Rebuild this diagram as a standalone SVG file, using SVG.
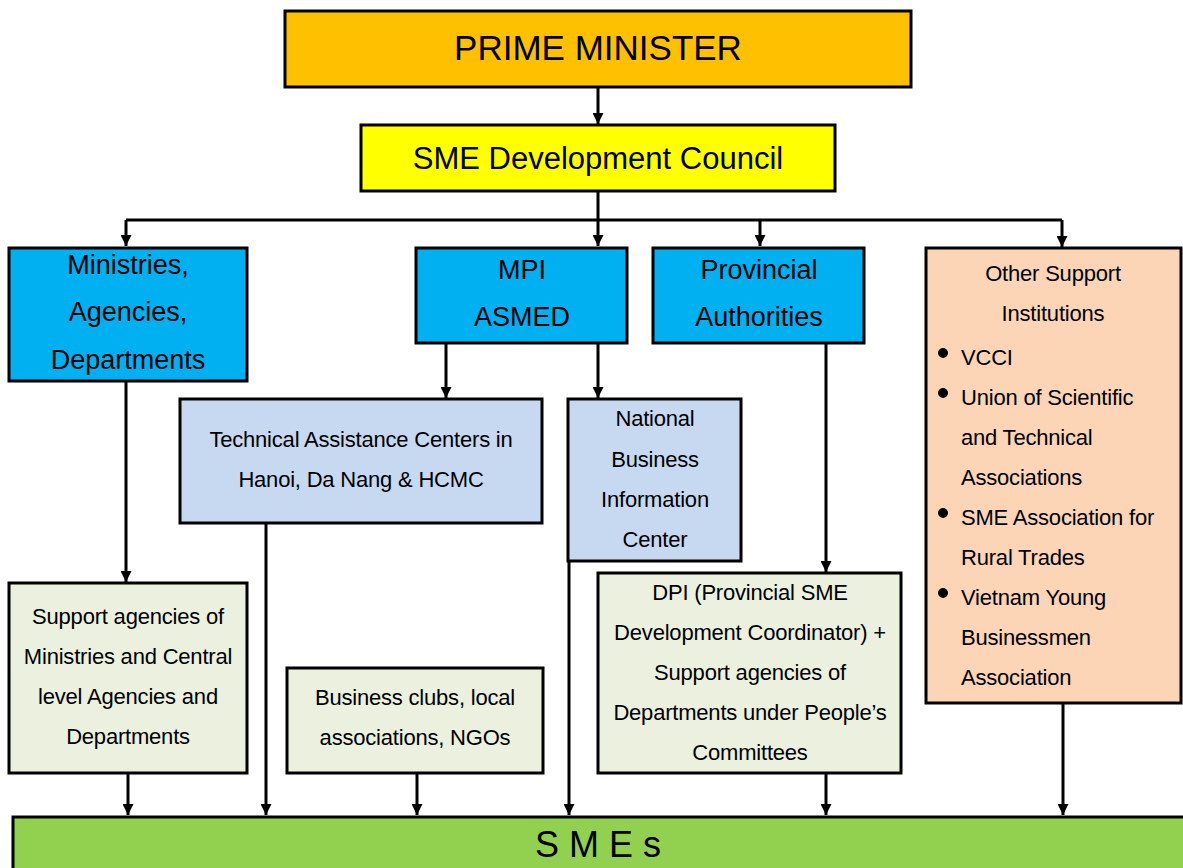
<svg xmlns="http://www.w3.org/2000/svg" width="1183" height="868" viewBox="0 0 1183 868">
<style>
.box{stroke:#000;stroke-width:3}
.t{font-family:"Liberation Sans",Arial,sans-serif;fill:#000;text-anchor:middle}
.tl{font-family:"Liberation Sans",Arial,sans-serif;fill:#000}
.s{font-size:22px;letter-spacing:-0.2px}
.b{font-size:27px}
.c{stroke:#000;stroke-width:3;fill:none}
.a{marker-end:url(#ar)}
</style>
<defs>
<marker id="ar" viewBox="0 0 10 10" refX="10" refY="5" markerWidth="12" markerHeight="11" markerUnits="userSpaceOnUse" orient="auto">
<path d="M0,0 L10,5 L0,10 z" fill="#000"/>
</marker>
</defs>
<rect width="1183" height="868" fill="#fff"/>
<g id="connectors">
<path class="c a" d="M598,87 V124"/>
<path class="c a" d="M598,191 V246"/>
<path class="c" d="M126,220 H1062"/>
<path class="c a" d="M126,220 V246"/>
<path class="c a" d="M760,220 V246"/>
<path class="c a" d="M1062,220 V247"/>
<path class="c a" d="M126,381 V582"/>
<path class="c a" d="M446,343 V398"/>
<path class="c a" d="M598,343 V398"/>
<path class="c a" d="M826,343 V572"/>
<path class="c a" d="M128,773 V815"/>
<path class="c a" d="M266,523 V815"/>
<path class="c a" d="M417,773 V815"/>
<path class="c a" d="M569,555 V815"/>
<path class="c a" d="M826,773 V815"/>
<path class="c a" d="M1063,703 V815"/>
</g>
<g id="pm">
<rect class="box" x="285" y="11" width="626" height="76" fill="#FFC000"/>
<text class="t" x="598" y="60" font-size="35">PRIME MINISTER</text>
</g>
<g id="council">
<rect class="box" x="361" y="125" width="474" height="66" fill="#FFFF00"/>
<text class="t" x="598" y="169" font-size="31">SME Development Council</text>
</g>
<g id="ministries">
<rect class="box" x="9" y="248" width="238" height="133" fill="#00B0F0"/>
<text class="t b" x="128" y="274">Ministries,</text>
<text class="t b" x="128" y="321">Agencies,</text>
<text class="t b" x="128" y="369">Departments</text>
</g>
<g id="mpi">
<rect class="box" x="416" y="248" width="211" height="95" fill="#00B0F0"/>
<text class="t b" x="522" y="279">MPI</text>
<text class="t b" x="522" y="326">ASMED</text>
</g>
<g id="provincial">
<rect class="box" x="653" y="248" width="211" height="95" fill="#00B0F0"/>
<text class="t b" x="759" y="279">Provincial</text>
<text class="t b" x="759" y="326">Authorities</text>
</g>
<g id="other">
<rect class="box" x="926" y="248" width="255" height="455" fill="#FBD5B5"/>
<text class="t s" x="1053" y="281">Other Support</text>
<text class="t s" x="1053" y="321">Institutions</text>
<circle cx="943" cy="353" r="5"/>
<circle cx="943" cy="393" r="5"/>
<circle cx="943" cy="513" r="5"/>
<circle cx="943" cy="593" r="5"/>
<text class="tl s" x="961" y="365">VCCI</text>
<text class="tl s" x="961" y="405">Union of  Scientific</text>
<text class="tl s" x="961" y="445">and Technical</text>
<text class="tl s" x="961" y="485">Associations</text>
<text class="tl s" x="961" y="525">SME Association for</text>
<text class="tl s" x="961" y="565">Rural Trades</text>
<text class="tl s" x="961" y="605">Vietnam Young</text>
<text class="tl s" x="961" y="645">Businessmen</text>
<text class="tl s" x="961" y="685">Association</text>
</g>
<g id="tac">
<rect class="box" x="180" y="399" width="362" height="124" fill="#C6D9F1"/>
<text class="t s" x="361" y="447">Technical Assistance Centers in</text>
<text class="t s" x="361" y="487">Hanoi, Da Nang &amp; HCMC</text>
</g>
<g id="nbic">
<rect class="box" x="568" y="399" width="173" height="162" fill="#C6D9F1"/>
<text class="t s" x="655" y="426">National</text>
<text class="t s" x="655" y="467">Business</text>
<text class="t s" x="655" y="507">Information</text>
<text class="t s" x="655" y="547">Center</text>
</g>
<g id="support">
<rect class="box" x="9" y="583" width="238" height="190" fill="#EBF1DE"/>
<text class="t s" x="128" y="624">Support agencies of</text>
<text class="t s" x="128" y="664">Ministries and Central</text>
<text class="t s" x="128" y="704">level Agencies and</text>
<text class="t s" x="128" y="744">Departments</text>
</g>
<g id="clubs">
<rect class="box" x="287" y="668" width="256" height="105" fill="#EBF1DE"/>
<text class="t s" x="415" y="705">Business clubs, local</text>
<text class="t s" x="415" y="745">associations, NGOs</text>
</g>
<g id="dpi">
<rect class="box" x="598" y="573" width="303" height="200" fill="#EBF1DE"/>
<text class="t s" x="750" y="600">DPI (Provincial SME</text>
<text class="t s" x="750" y="640">Development Coordinator) +</text>
<text class="t s" x="750" y="680">Support agencies of</text>
<text class="t s" x="750" y="720">Departments under People’s</text>
<text class="t s" x="750" y="760">Committees</text>
</g>
<g id="smes">
<rect class="box" x="13" y="817" width="1172" height="60" fill="#92D050"/>
<text class="t" x="598" y="857" font-size="36">S M E s</text>
</g>
</svg>
